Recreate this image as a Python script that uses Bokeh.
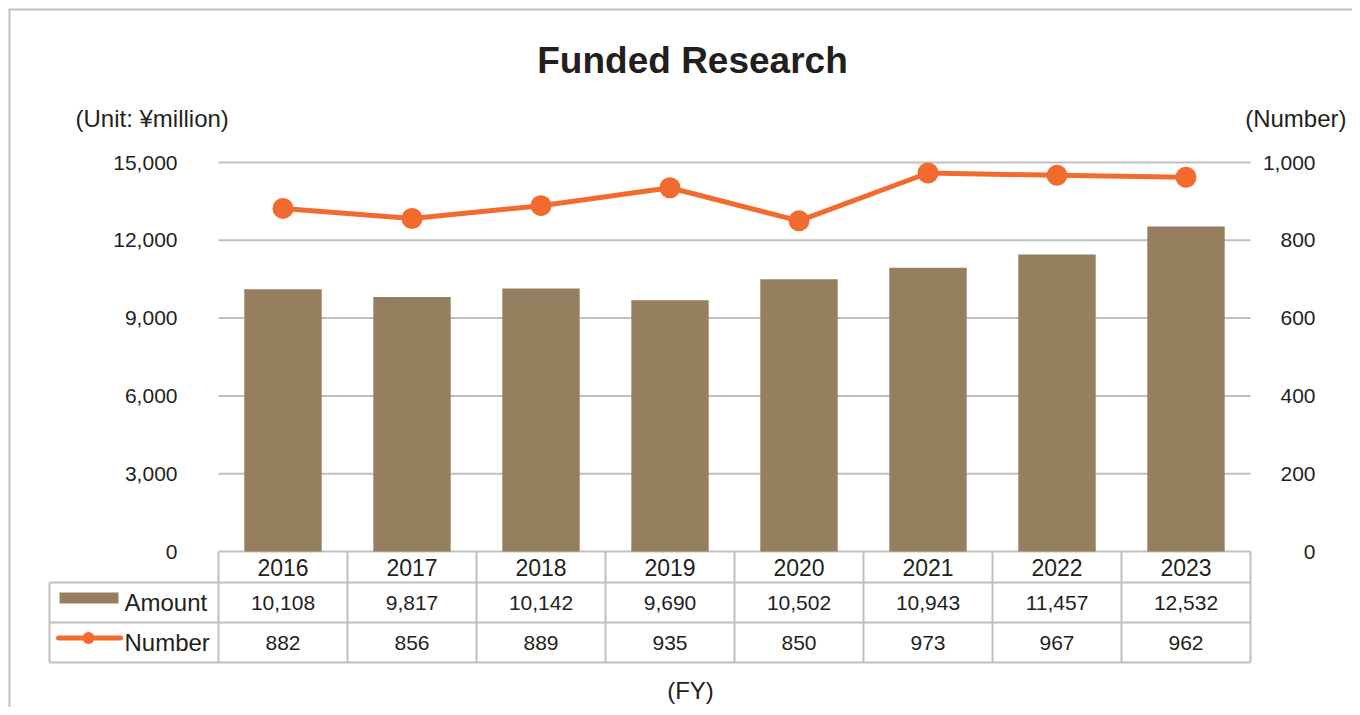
from bokeh.plotting import figure
from bokeh.models import Range1d, LinearAxis, FixedTicker, NumeralTickFormatter
from bokeh.embed import file_html
from bokeh.resources import INLINE
from bokeh.core.properties import value

# ---- data ----
years = ["2016", "2017", "2018", "2019", "2020", "2021", "2022", "2023"]
amount = [10108, 9817, 10142, 9690, 10502, 10943, 11457, 12532]
number = [882, 856, 889, 935, 850, 973, 967, 962]
left_ticks = [0, 3000, 6000, 9000, 12000, 15000]
right_ticks = [0, 200, 400, 600, 800, 1000]
title_text = "Funded Research"
left_unit = "(Unit: \u00a5million)"
right_unit = "(Number)"
x_unit = "(FY)"
series_names = ["Amount", "Number"]

# ---- styles / layout helpers ----
BAR = "#967f5e"
LINE = "#f26b2e"
GRID = "#bfbfbf"
TXT = "#231f20"
FONT = "Liberation Sans"

W, H = 1352, 707          # canvas size
X0, COL = 218.0, 129.0    # x of first category edge, px per category
Y0 = 551.0                # y of value 0
PX = 15000 / 389.0        # left units per px
PXR = 1000 / 389.0        # right units per px


def fx(px_x):
    return (px_x - X0) / COL


def fy(px_y):
    return (Y0 - px_y) * PX


p = figure(width=W, height=H,
           x_range=Range1d(fx(0), fx(W)),
           y_range=Range1d(fy(H), fy(0)),
           output_backend="svg", toolbar_location=None,
           min_border=0, min_border_left=0, min_border_right=0,
           min_border_top=0, min_border_bottom=0,
           x_axis_location=None, y_axis_location=None, title=None)
p.outline_line_color = None
p.xgrid.grid_line_color = None
p.ygrid.grid_line_color = None
p.background_fill_color = "white"
p.border_fill_color = "white"
p.extra_y_ranges = {"num": Range1d((Y0 - H) * PXR, Y0 * PXR)}

n = len(years)


def style_axis(ax):
    ax.axis_line_color = None
    ax.major_tick_line_color = None
    ax.minor_tick_line_color = None
    ax.major_label_text_font = FONT
    ax.major_label_text_font_size = "21px"
    ax.major_label_text_color = TXT


lax = LinearAxis(ticker=FixedTicker(ticks=left_ticks),
                 formatter=NumeralTickFormatter(format="0,0"),
                 fixed_location=0)
style_axis(lax)
lax.major_label_standoff = 35
p.add_layout(lax, "left")

rax = LinearAxis(y_range_name="num", ticker=FixedTicker(ticks=right_ticks),
                 formatter=NumeralTickFormatter(format="0,0"),
                 fixed_location=fx(1325))
style_axis(rax)
rax.major_label_standoff = 4
p.add_layout(rax, "left")

# outer chart-area border (left and top edges)
p.segment(x0=[fx(9), fx(8)], y0=[fy(H), fy(9)], x1=[fx(9), fx(W)],
          y1=[fy(9), fy(9)], line_color="#c0c0c0", line_width=2)

# horizontal gridlines across the plot area
p.segment(x0=[0] * len(left_ticks), x1=[n] * len(left_ticks), y0=left_ticks,
          y1=left_ticks, line_color=GRID, line_width=2)

# bars and line
xc = [i + 0.5 for i in range(n)]
p.vbar(x=xc, top=amount, width=0.6, bottom=0, fill_color=BAR, line_color=None)
p.line(x=xc, y=number, y_range_name="num", line_color=LINE, line_width=5,
       line_join="round")
p.scatter(x=xc, y=number, y_range_name="num", size=21, fill_color=LINE,
          line_color=None)

# titles
p.text(x=[fx(692)], y=[fy(60)], text=[title_text], text_align="center",
       text_baseline="middle", text_font=value(FONT), text_font_style="bold",
       text_font_size="37px", text_color=TXT)
p.text(x=[fx(75)], y=[fy(118)], text=[left_unit], text_align="left",
       text_baseline="middle", text_font=value(FONT), text_font_size="24px",
       text_color=TXT)
p.text(x=[fx(1346)], y=[fy(118)], text=[right_unit], text_align="right",
       text_baseline="middle", text_font=value(FONT), text_font_size="24px",
       text_color=TXT)
p.text(x=[fx(690)], y=[fy(690)], text=[x_unit], text_align="center",
       text_baseline="middle", text_font=value(FONT), text_font_size="24px",
       text_color=TXT)

# ---- data table ----
xl = fx(49)
rows = [fy(582), fy(622), fy(662)]
p.segment(x0=[xl] * 3, y0=rows, x1=[n] * 3, y1=rows, line_color=GRID, line_width=2)
p.segment(x0=list(range(n + 1)), y0=[0] * (n + 1), x1=list(range(n + 1)),
          y1=[fy(662)] * (n + 1), line_color=GRID, line_width=2)
p.segment(x0=[xl], y0=[fy(582)], x1=[xl], y1=[fy(662)], line_color=GRID, line_width=2)

p.text(x=xc, y=[fy(567)] * n, text=years, text_align="center", text_baseline="middle",
       text_font=value(FONT), text_font_size="23px", text_color=TXT)
p.text(x=xc, y=[fy(602.5)] * n, text=[f"{v:,}" for v in amount], text_align="center",
       text_baseline="middle", text_font=value(FONT), text_font_size="21px",
       text_color=TXT)
p.text(x=xc, y=[fy(642)] * n, text=[f"{v:,}" for v in number], text_align="center",
       text_baseline="middle", text_font=value(FONT), text_font_size="21px",
       text_color=TXT)

# legend keys in the table
p.quad(left=[fx(59)], right=[fx(118)], top=[fy(592)], bottom=[fy(603)],
       fill_color=BAR, line_color=None)
p.segment(x0=[fx(58)], y0=[fy(637.5)], x1=[fx(120)], y1=[fy(637.5)],
          line_color=LINE, line_width=5, line_cap="round")
p.scatter(x=[fx(88)], y=[fy(637.5)], size=12, fill_color=LINE, line_color=None)
p.text(x=[fx(124)] * 2, y=[fy(601.5), fy(641.5)], text=series_names,
       text_align="left", text_baseline="middle", text_font=value(FONT),
       text_font_size="24px", text_color=TXT)

open("out.html", "w").write(file_html(p, INLINE))
